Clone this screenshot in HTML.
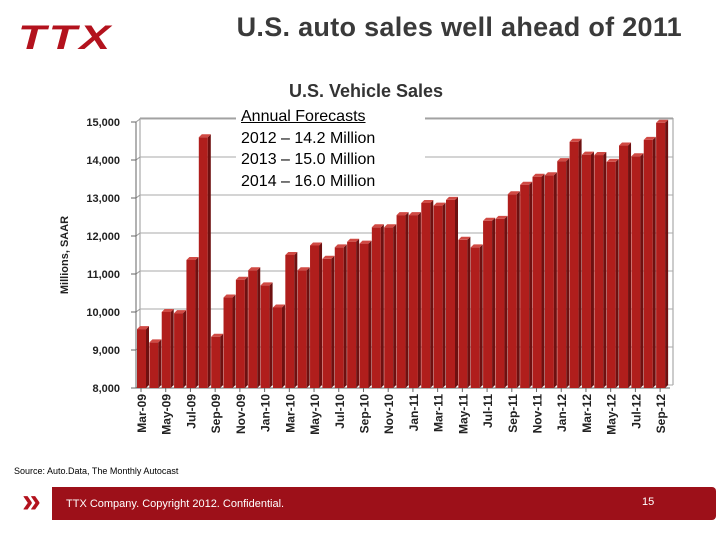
<!DOCTYPE html>
<html><head><meta charset="utf-8"><style>
body{margin:0;width:720px;height:540px;background:#fff;font-family:"Liberation Sans",sans-serif;position:relative;overflow:hidden}
.abs{position:absolute}
</style></head><body>
<div class="abs" style="left:18px;top:20px;font-weight:bold;font-size:34px;color:#b3121d;letter-spacing:2px;font-style:italic;line-height:36px;transform:scaleX(1.35);transform-origin:left">TTX</div>
<div class="abs" style="left:150px;width:532px;text-align:right;top:12px;font-size:27px;letter-spacing:0.3px;color:#3a3a3a;font-weight:bold">U.S. auto sales well ahead of 2011</div>
<svg class="abs" style="left:0;top:0" width="720" height="540">
<g id="g"></g>
</svg>
<div class="abs" style="left:236px;top:106px;width:184px;height:88px;background:#fff;font-size:16px;line-height:21.5px;color:#000;padding-left:5px">
<u>Annual Forecasts</u><br>2012 – 14.2 Million<br>2013 – 15.0 Million<br>2014 – 16.0 Million</div>
<div class="abs" style="left:14px;top:466px;font-size:9px;color:#000">Source: Auto.Data, The Monthly Autocast</div>
<div class="abs" style="left:22px;top:484px;font-size:34px;line-height:34px;color:#b3121d;font-weight:bold">»</div>
<div class="abs" style="left:52px;top:487px;width:664px;height:33px;background:#9d1019;border-radius:0 4px 4px 0"></div>
<div class="abs" style="left:66px;top:498px;font-size:11px;color:#fff">TTX Company. Copyright 2012. Confidential.</div>
<div class="abs" style="left:642px;top:496px;font-size:11px;color:#fff">15</div>
<script>
const categories=["Mar-09","Apr-09","May-09","Jun-09","Jul-09","Aug-09","Sep-09","Oct-09","Nov-09","Dec-09","Jan-10","Feb-10","Mar-10","Apr-10","May-10","Jun-10","Jul-10","Aug-10","Sep-10","Oct-10","Nov-10","Dec-10","Jan-11","Feb-11","Mar-11","Apr-11","May-11","Jun-11","Jul-11","Aug-11","Sep-11","Oct-11","Nov-11","Dec-11","Jan-12","Feb-12","Mar-12","Apr-12","May-12","Jun-12","Jul-12","Aug-12","Sep-12"];
const sales=[9550,9200,10000,9970,11370,14600,9350,10380,10850,11100,10700,10120,11500,11100,11750,11400,11700,11850,11800,12230,12230,12550,12550,12870,12800,12950,11900,11700,12400,12450,13100,13350,13560,13600,13970,14480,14140,14130,13950,14380,14100,14530,14980];
const yTicks=[8000,9000,10000,11000,12000,13000,14000,15000];
const NS="http://www.w3.org/2000/svg",g=document.getElementById('g');
function y(v){return 388-(v-8000)*0.038;}
function x(i){return 137+i*12.36;}
function mk(t,a,p){const e=document.createElementNS(NS,t);for(const k in a)e.setAttribute(k,a[k]);(p||g).appendChild(e);return e;}
const ct=mk('text',{x:366,y:97,'text-anchor':'middle','font-size':'18','font-weight':'bold',fill:'#333'});ct.textContent='U.S. Vehicle Sales';


const yl=mk('text',{transform:'translate(68,255) rotate(-90)','text-anchor':'middle','font-size':'11','font-weight':'bold',fill:'#222'});yl.textContent='Millions, SAAR';


mk('line',{x1:140,y1:118,x2:140,y2:385,stroke:'#999'});
mk('line',{x1:140,y1:118,x2:673,y2:118,stroke:'#999'});
mk('line',{x1:673,y1:118,x2:673,y2:385,stroke:'#999'});
yTicks.forEach(v=>{
 mk('line',{x1:136,y1:y(v),x2:140,y2:y(v)-3,stroke:'#999'});
 const gl=mk('line',{x1:140,y1:y(v)-3,x2:673,y2:y(v)-3,stroke:'#aaa'});
 
 
 mk('line',{x1:131,y1:y(v),x2:136,y2:y(v),stroke:'#666'});
 const t=mk('text',{x:120,y:y(v)+4,'text-anchor':'end','font-size':'11','font-weight':'bold',fill:'#222'});t.textContent=v.toLocaleString('en-US');
 
 
});
mk('line',{x1:136,y1:122,x2:136,y2:388,stroke:'#666'});
mk('line',{x1:136,y1:388,x2:670,y2:388,stroke:'#666'});
sales.forEach((v,i)=>{
 const bx=x(i),top=y(v);
 const b=mk('rect',{x:bx,y:top,width:9,height:388-top,fill:'#b01e1c'});
 
 
 mk('polygon',{points:`${bx+9},${top} ${bx+12},${top-3} ${bx+12},${385} ${bx+9},388`,fill:'#6e1010'});
 mk('polygon',{points:`${bx},${top} ${bx+3},${top-3} ${bx+12},${top-3} ${bx+9},${top}`,fill:'#d04a44'});
 if(i%2===0){
  mk('line',{x1:bx+4,y1:388,x2:bx+4,y2:392,stroke:'#666'});
  const t=mk('text',{transform:`translate(${bx+9},394) rotate(-90)`,'text-anchor':'end','font-size':'12','font-weight':'bold',fill:'#222'});t.textContent=categories[i];
  
  
 }
});
</script>
</body></html>
